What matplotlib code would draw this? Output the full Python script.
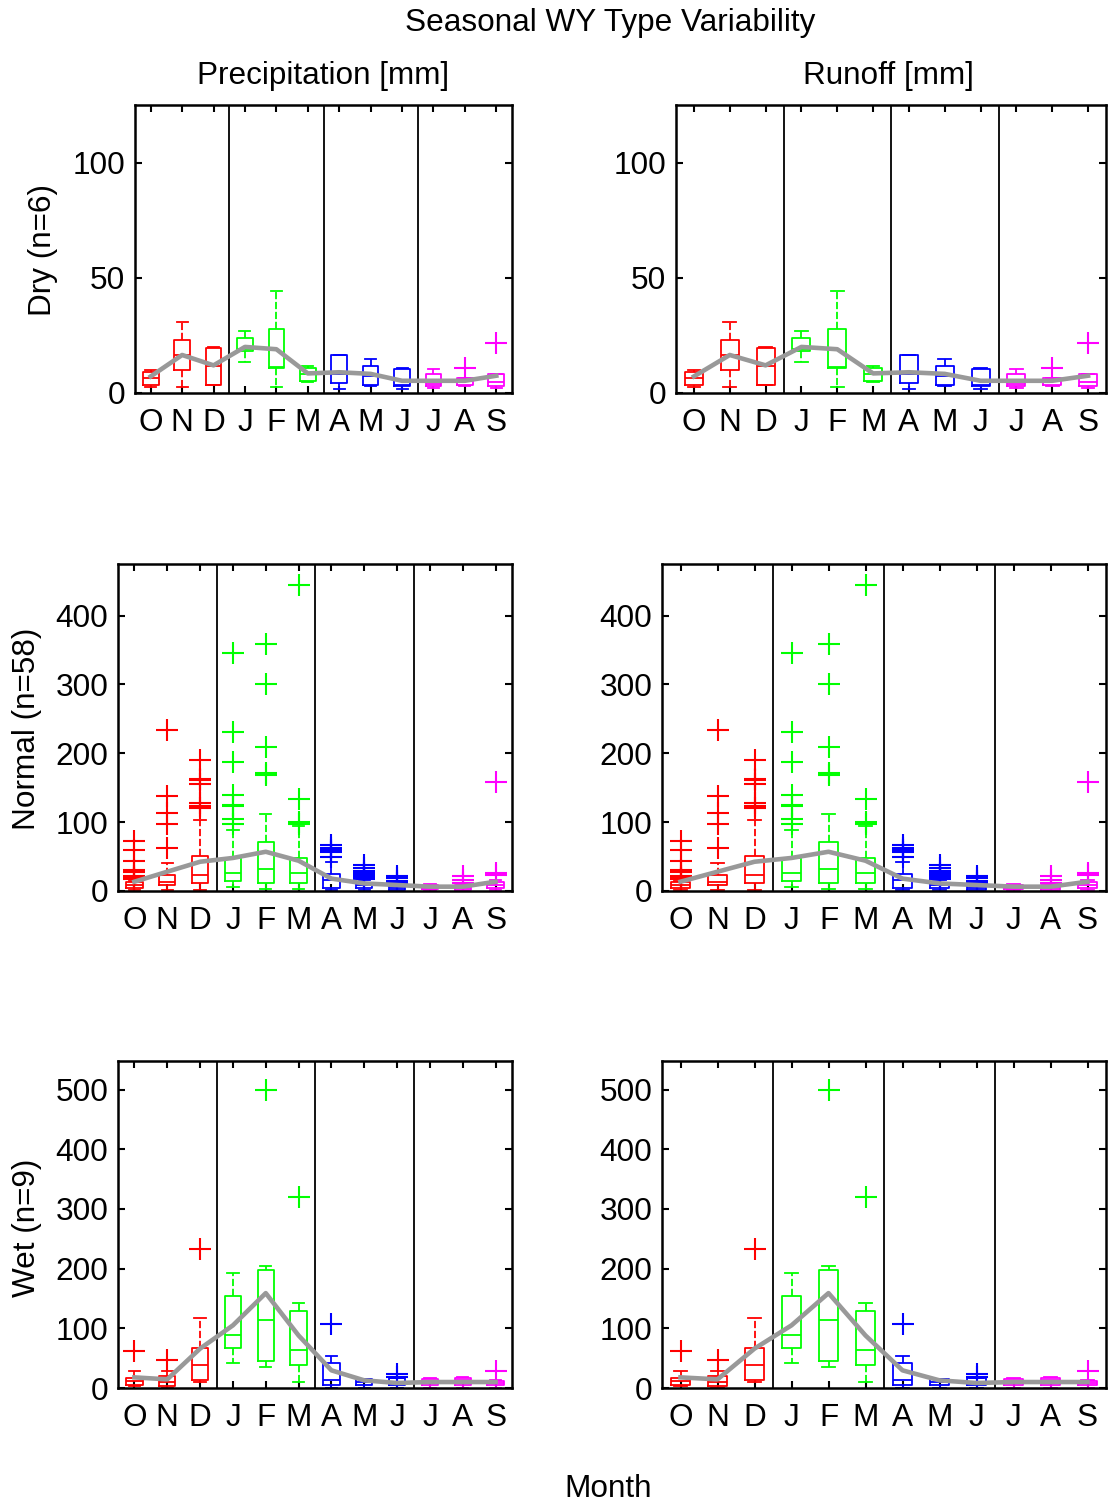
import numpy as np
import matplotlib
matplotlib.use("Agg")
import matplotlib.pyplot as plt

plt.rcParams['font.family'] = ['Liberation Sans', 'DejaVu Sans']

months = ["O", "N", "D", "J", "F", "M", "A", "M", "J", "J", "A", "S"]
season_colors = ["#ff0000"] * 3 + ["#00ff00"] * 3 + ["#0000ff"] * 3 + ["#ff00ff"] * 3

# box stats (runoff panels show the same values)
dry_q1 = [3.3, 10, 3.3, 18.4, 11, 5, 4.3, 3.3, 2.9, 2.9, 3.3, 2.9]
dry_med = [6.5, 16.5, 11.9, 19, 11.5, 8.2, 8.2, 7.5, 3.6, 4, 5.7, 4.6]
dry_q3 = [9.3, 23.2, 19.4, 24, 27.7, 11, 16.5, 11.9, 10.3, 8.2, 6.5, 8.3]
dry_lo = [2.6, 2.6, 3.3, 13.6, 2.6, 4.6, 1.7, 2.9, 1.9, 2.2, 2.9, 2.2]
dry_hi = [10, 30.6, 20.1, 26.8, 44.3, 11.8, 16.5, 14.8, 11, 10.3, 6.5, 8.3]
dry_out = [[], [], [], [], [], [], [], [], [], [], [11], [21.8]]
dry_mean = [7.2, 16.5, 12, 20, 19, 8.5, 9, 8.3, 5.3, 5.3, 5.3, 7.5]

normal_q1 = [4, 8.7, 12, 15, 12, 12, 4, 4, 2, 3, 2, 4]
normal_med = [8, 13.5, 23, 25.6, 31.4, 25.6, 16, 8, 5, 5, 4, 8]
normal_q3 = [13, 23, 50.7, 47.3, 71.5, 47.3, 25, 12, 8, 8, 8, 13.5]
normal_lo = [1, 1.5, 1.5, 6, 2.4, 2.4, 1, 1, 0.5, 1, 0.5, 1]
normal_hi = [15, 41, 103, 88, 111.6, 94, 42, 16, 10, 10, 10, 16]
normal_out = [[17, 19, 22, 27, 31, 44, 60, 72],
              [63, 97, 113, 138, 234],
              [120, 123, 128, 155, 161, 163, 191],
              [98, 104, 123, 125, 140, 187, 231, 346],
              [169, 171, 209, 300, 359],
              [98, 100, 134, 444],
              [50, 56, 60, 63, 67],
              [18, 21, 23, 26, 29, 33, 38],
              [12, 15, 19, 22],
              [],
              [12, 16, 22],
              [23, 26, 159]]
normal_mean = [13.5, 28, 42.5, 48, 57, 44, 18, 11, 8.7, 6.3, 6.3, 13.5]

wet_q1 = [5.6, 3.3, 12.8, 67, 46, 38, 5.6, 5.6, 4.5, 5.6, 4.5, 4.5]
wet_med = [11.7, 10, 39, 89, 114, 64, 12.8, 10, 10, 10, 12.8, 8.4]
wet_q3 = [17.3, 20, 67.5, 155, 198, 129, 42, 14.5, 16.7, 14.5, 17.3, 11.7]
wet_lo = [3.3, 0, 10, 42, 35, 10, 0, 0, 0, 0, 0, 0]
wet_hi = [27.9, 27.9, 117.7, 193, 204, 143, 53, 15.6, 16.7, 17.3, 18, 12.8]
wet_out = [[61.3], [46.3], [233], [], [500], [319.6], [107.6], [], [18, 24], [], [], [27.9]]
wet_mean = [17.8, 14.5, 66, 105, 159, 88, 29.6, 12.8, 8.4, 10, 10, 10]

row_names = ["Dry (n=6)", "Normal (n=58)", "Wet (n=9)"]
row_data = [
    (dry_q1, dry_med, dry_q3, dry_lo, dry_hi, dry_out, dry_mean),
    (normal_q1, normal_med, normal_q3, normal_lo, normal_hi, normal_out, normal_mean),
    (wet_q1, wet_med, wet_q3, wet_lo, wet_hi, wet_out, wet_mean),
]
row_ylim = [125, 475, 548]
row_yticks = [[0, 50, 100], [0, 100, 200, 300, 400], [0, 100, 200, 300, 400, 500]]

W, H = 1111, 1502
# pixel boxes (left, right, top, bottom) per row, per column
boxes = [
    [(135, 512, 105, 393), (676, 1106, 105, 393)],
    [(118, 512, 564, 891), (662, 1106, 564, 891)],
    [(118, 512, 1061, 1388), (662, 1106, 1061, 1388)],
]

fig = plt.figure(figsize=(W / 100, H / 100), dpi=100)
fs = 22.7

for r in range(3):
    q1, med, q3, lo, hi, out, mean = row_data[r]
    stats = []
    for i in range(12):
        stats.append(dict(q1=q1[i], med=med[i], q3=q3[i], whislo=lo[i],
                          whishi=hi[i], fliers=out[i]))
    for c in range(2):
        l, rr, t, b = boxes[r][c]
        ax = fig.add_axes([l / W, 1 - b / H, (rr - l) / W, (b - t) / H])
        pos = np.arange(1, 13)
        for i in range(12):
            col = season_colors[i]
            ax.bxp([stats[i]], positions=[pos[i]], widths=0.5, capwidths=0.35,
                   showfliers=True,
                   boxprops=dict(color=col, lw=1.3),
                   medianprops=dict(color=col, lw=1.3),
                   whiskerprops=dict(color=col, lw=1.3, linestyle=(0, (4, 1.5))),
                   capprops=dict(color=col, lw=1.3),
                   flierprops=dict(marker='+', markeredgecolor=col, markersize=16,
                                   markeredgewidth=1.5, linestyle='none'))
        ax.plot(pos, mean, color='#999999', lw=3.3, zorder=5, solid_joinstyle='round')
        for s in [3.5, 6.5, 9.5]:
            ax.axvline(s, color='black', lw=1.3, zorder=1)
        ax.set_xlim(0.5, 12.5)
        ax.set_ylim(0, row_ylim[r])
        ax.set_yticks(row_yticks[r])
        ax.set_xticks(pos)
        ax.set_xticklabels(months)
        ax.tick_params(direction='in', top=True, right=True, length=5, width=1.5,
                       labelsize=fs, pad=7)
        ax.tick_params(axis='x', pad=11)
        for sp in ax.spines.values():
            sp.set_linewidth(1.8)

    fig.text([43, 27, 27][r] / W, 1 - [250, 729, 1228][r] / H, row_names[r],
             rotation=90, ha='center', va='center', fontsize=fs)

fig.text(610 / W, 1 - 23 / H, "Seasonal WY Type Variability", ha='center', va='center', fontsize=fs)
fig.text(323 / W, 1 - 76 / H, "Precipitation [mm]", ha='center', va='center', fontsize=fs)
fig.text(888 / W, 1 - 76 / H, "Runoff [mm]", ha='center', va='center', fontsize=fs)
fig.text(608 / W, 1 - 1489 / H, "Month", ha='center', va='center', fontsize=fs)

fig.savefig("out.png", dpi=100)
